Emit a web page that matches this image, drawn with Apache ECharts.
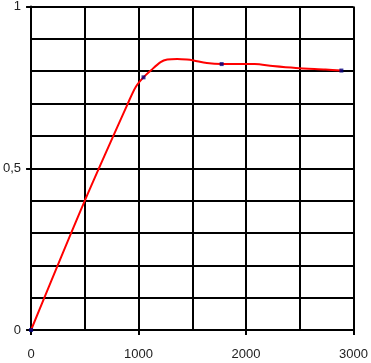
<!DOCTYPE html>
<html><head><meta charset="utf-8">
<script src="https://cdn.jsdelivr.net/npm/echarts@6/dist/echarts.min.js"></script>
<style>html,body{margin:0;padding:0;background:#fff}#c{width:371px;height:363px}</style>
</head><body><div id="c"></div>
<script>
// curve (x, y)
var curveX = [0, 500, 900, 975, 1046, 1113, 1205, 1267, 1360, 1451, 1512, 1635, 1773, 2080, 2248, 2463, 2739, 2887];
var curveY = [0, 0.40, 0.70, 0.752, 0.781, 0.802, 0.828, 0.836, 0.838, 0.836, 0.833, 0.825, 0.822, 0.822, 0.816, 0.810, 0.805, 0.802];
// marked points
var markX = [0, 1046, 1773, 2887];
var markY = [0, 0.781, 0.822, 0.802];
var xTicks = [0, 1000, 2000, 3000];
var yTicks = [0, 0.5, 1];

var curve = curveX.map(function(x, i){ return [x, curveY[i]]; });
var marks = markX.map(function(x, i){ return [x, markY[i]]; });
var lineStyle = {color: '#000', width: 2};
var chart = echarts.init(document.getElementById('c'), null, {renderer: 'canvas'});
chart.setOption({
  animation: false,
  grid: {left: 29, right: 16, top: 6, bottom: 33, containLabel: false},
  xAxis: {
    type: 'value', min: xTicks[0], max: xTicks[xTicks.length-1], interval: 1000,
    axisLine: {show: true, lineStyle: lineStyle},
    axisTick: {show: true, length: 5, lineStyle: lineStyle},
    axisLabel: {color: '#222', fontSize: 13, fontFamily: 'Liberation Sans, Arial', margin: 18,
      formatter: function(v){ return String(v); }},
    splitLine: {show: true, lineStyle: lineStyle},
    minorTick: {show: false, splitNumber: 2},
    minorSplitLine: {show: true, lineStyle: lineStyle}
  },
  yAxis: {
    type: 'value', min: yTicks[0], max: yTicks[yTicks.length-1], interval: 0.5,
    axisLine: {show: true, lineStyle: lineStyle},
    axisTick: {show: true, length: 5, lineStyle: lineStyle},
    axisLabel: {color: '#222', fontSize: 13, fontFamily: 'Liberation Sans, Arial', margin: 10,
      formatter: function(v){ return String(v).replace('.', ','); }},
    splitLine: {show: true, lineStyle: lineStyle},
    minorTick: {show: false, splitNumber: 5},
    minorSplitLine: {show: true, lineStyle: lineStyle}
  },
  series: [
    {type: 'line', data: curve, smooth: 0.3, showSymbol: false, symbol: 'none',
     lineStyle: {color: '#ff0000', width: 2}, z: 3},
    {type: 'scatter', data: marks, symbol: 'rect', symbolSize: 4,
     itemStyle: {color: '#000080'}, z: 4}
  ]
});
</script></body></html>
